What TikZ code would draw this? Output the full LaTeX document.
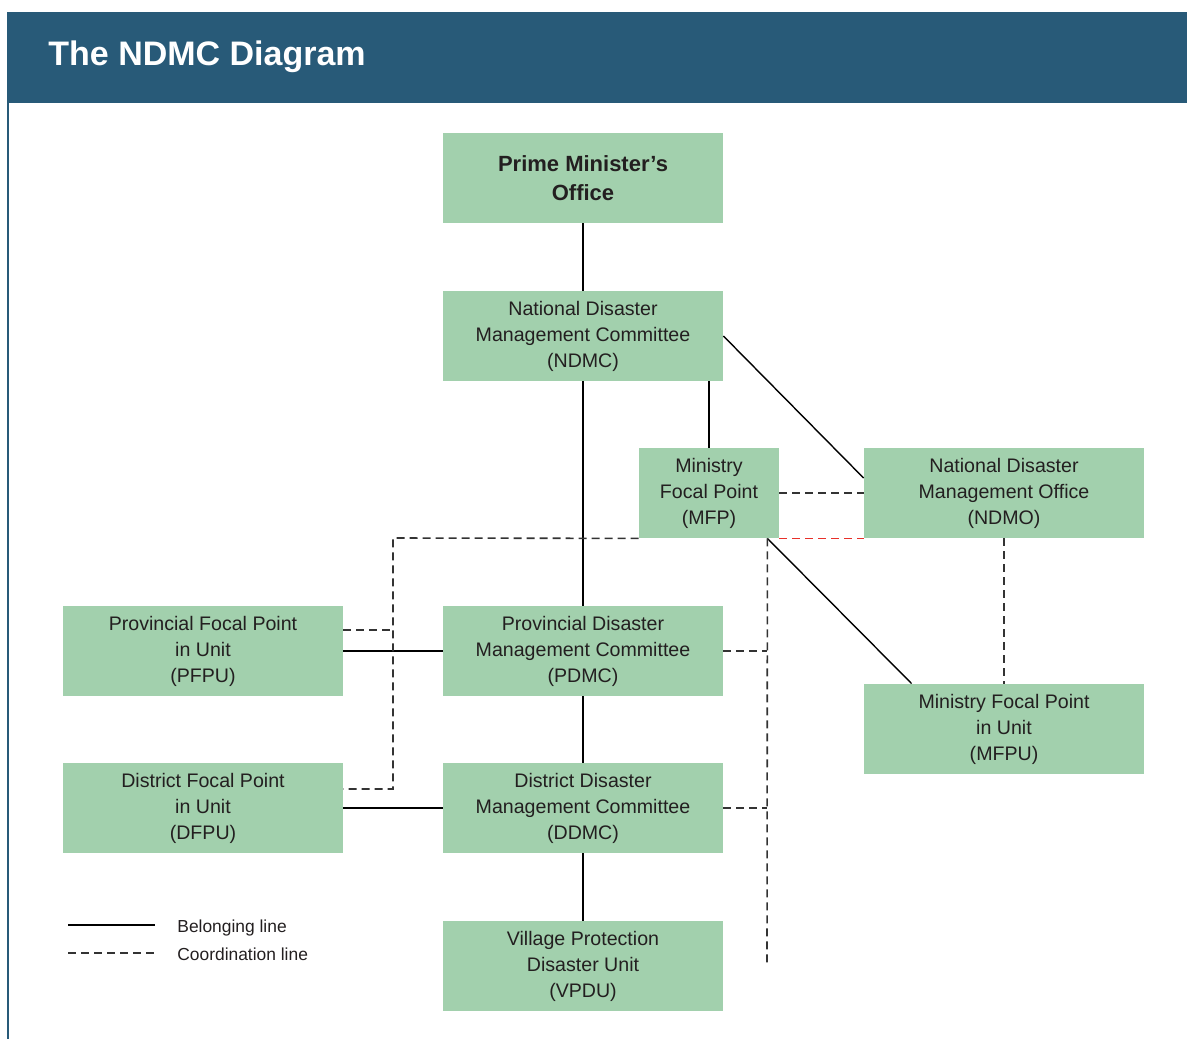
\documentclass[tikz,border=0pt]{standalone}
\usepackage{fontspec}
\setmainfont{Liberation Sans}
\usetikzlibrary{positioning,calc}
\definecolor{headblue}{HTML}{285A78}
\definecolor{boxgreen}{HTML}{A2D0AD}
\definecolor{inkgray}{HTML}{231F20}
\definecolor{dashgray}{HTML}{333333}
\definecolor{coordred}{HTML}{E8302A}
\tikzset{
  unitbox/.style={fill=boxgreen, minimum width=140pt, minimum height=45pt, inner sep=0pt,
    align=center, text=inkgray, font=\fontsize{9.8}{13}\selectfont},
  belongline/.style={line width=0.7pt, black},
  coordline/.style={line width=0.8pt, dashgray, dash pattern=on 4pt off 2.5pt},
  legendtext/.style={anchor=base west, inner sep=0pt, text=inkgray, font=\fontsize{8.7}{10}\selectfont},
}

\begin{document}
\begin{tikzpicture}[x=0.5pt, y=-0.5pt]
    \useasboundingbox (0,0) rectangle (1187,1039);

    % Header
    \fill[headblue] (7,12) rectangle (1187,103);
    \draw[headblue, line width=1pt] (8,103) -- (8,1039);
    \node[anchor=base west, inner sep=0pt, text=white, font=\bfseries\fontsize{17}{20}\selectfont] (title) at (48,65) {The NDMC Diagram};

    % Units
    \node[unitbox, font=\bfseries\fontsize{11}{14.5}\selectfont] (pmo) at (583,178) {Prime Minister's\\Office};
    \node[unitbox] (ndmc) at (583,336) {National Disaster\\Management Committee\\(NDMC)};
    \node[unitbox, minimum width=70pt] (mfp) at (709,493) {Ministry\\Focal Point\\(MFP)};
    \node[unitbox] (ndmo) at (1004,493) {National Disaster\\Management Office\\(NDMO)};
    \node[unitbox] (pfpu) at (203,651) {Provincial Focal Point\\in Unit\\(PFPU)};
    \node[unitbox] (pdmc) at (583,651) {Provincial Disaster\\Management Committee\\(PDMC)};
    \node[unitbox] (mfpu) at (1004,729) {Ministry Focal Point\\in Unit\\(MFPU)};
    \node[unitbox] (dfpu) at (203,808) {District Focal Point\\in Unit\\(DFPU)};
    \node[unitbox] (ddmc) at (583,808) {District Disaster\\Management Committee\\(DDMC)};
    \node[unitbox] (vpdu) at (583,966) {Village Protection\\Disaster Unit\\(VPDU)};

    % Belonging lines
    \draw[belongline] (pmo) -- (ndmc);
    \draw[belongline] (ndmc) -- (pdmc);
    \draw[belongline] (pdmc) -- (ddmc);
    \draw[belongline] (ddmc) -- (vpdu);
    \draw[belongline] (pfpu) -- (pdmc);
    \draw[belongline] (dfpu) -- (ddmc);
    \draw[belongline] (ndmc.south -| mfp.north) -- (mfp.north);
    \draw[belongline] (ndmc.east) -- ([yshift=7.5pt]ndmo.west);
    \coordinate (rbus) at ([xshift=-6pt]mfp.south east);
    \draw[belongline] (rbus) -- ([xshift=24pt]mfpu.north west);

    % Coordination lines
    \draw[coordline] (mfp.east) -- (mfp.east -| ndmo.west);
    \draw[coordline, coordred] (mfp.south east) -- (ndmo.south west);
    \draw[coordline] (ndmo.south) -- (mfpu.north);
    \coordinate (lbus) at (393,538);
    \draw[coordline] (mfp.south west) -- (lbus) |- ([yshift=9.5pt]dfpu.east);
    \draw[coordline] ([yshift=10.5pt]pfpu.east) -- ([yshift=10.5pt]pfpu.east -| lbus);
    \coordinate (rbusend) at (767,967);
    \draw[coordline] (rbus) -- (rbusend);
    \draw[coordline] (pdmc.east) -- (pdmc.east -| rbus);
    \draw[coordline] (ddmc.east) -- (ddmc.east -| rbus);

    % Legend
    \coordinate (solidA) at (68,925);
    \coordinate (solidB) at (155,925);
    \coordinate (dashA) at (68,953);
    \coordinate (dashB) at (155,953);
    \draw[belongline] (solidA) -- (solidB);
    \draw[coordline] (dashA) -- (dashB);
    \node[legendtext] (belongkey) at (177,932) {Belonging line};
    \node[legendtext] (coordkey) at (177,960) {Coordination line};
\end{tikzpicture}
\end{document}
